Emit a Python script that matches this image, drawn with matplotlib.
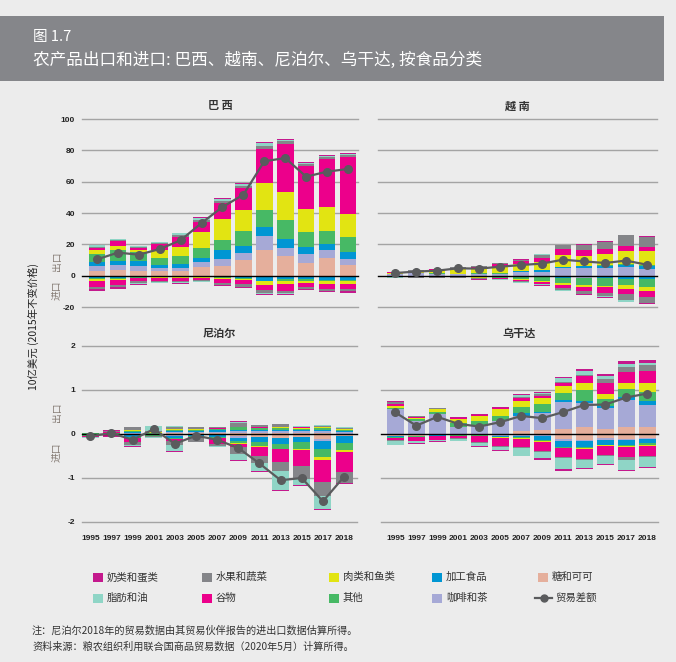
import matplotlib
matplotlib.use("Agg")
import matplotlib.pyplot as plt
from matplotlib.patches import Rectangle
from matplotlib.lines import Line2D
import numpy as np

plt.rcParams['font.family'] = ['Noto Sans CJK SC', 'DejaVu Sans']

years = ["1995", "1997", "1999", "2001", "2003", "2005", "2007",
         "2009", "2011", "2013", "2015", "2017", "2018"]

# category order = stacking order away from the zero line
cat_keys = ["sugar", "coffee", "processed", "other", "meat", "cereals", "fruit", "fats", "dairy"]
cat_names = {"dairy": "奶类和蛋类", "fruit": "水果和蔬菜", "meat": "肉类和鱼类",
             "processed": "加工食品", "sugar": "糖和可可", "fats": "脂肪和油",
             "cereals": "谷物", "other": "其他", "coffee": "咖啡和茶"}
cat_colors = {"dairy": "#c4198d", "fruit": "#848589", "meat": "#e2e412",
              "processed": "#0096d3", "sugar": "#e5af9c", "fats": "#8fd5c6",
              "cereals": "#ec008b", "other": "#47b965", "coffee": "#a6a9d6"}
balance_color = "#5a5b5d"

# ---- Brazil (10亿美元) ----
brazil_exports = [
    [3.2, 3.4, 3.2, 3.2, 3.2, 5.7, 6.4, 10.2, 16.6, 12.8, 8.3, 11.5, 7.0],     # sugar
    [3.0, 3.6, 3.2, 1.9, 1.9, 3.2, 4.5, 4.1, 8.9, 5.1, 5.7, 5.1, 3.9],         # coffee
    [2.8, 2.1, 2.7, 1.9, 2.6, 2.6, 5.3, 4.8, 5.8, 5.7, 4.5, 3.8, 4.4],         # processed
    [5.0, 7.1, 6.0, 4.5, 5.1, 6.4, 6.8, 9.6, 10.8, 12.1, 9.6, 8.3, 9.6],       # other
    [2.6, 2.5, 1.1, 4.7, 5.7, 10.2, 13.4, 13.4, 17.3, 17.9, 14.7, 15.3, 14.7], # meat
    [1.2, 3.2, 1.5, 3.8, 6.0, 6.4, 9.8, 14.1, 21.7, 30.7, 27.0, 30.3, 36.4],   # cereals
    [0.8, 0.7, 0.8, 0.6, 1.5, 1.2, 1.3, 1.3, 1.5, 1.5, 1.5, 1.5, 1.3],         # fruit
    [0.7, 0.6, 0.3, 0.6, 1.0, 1.3, 1.5, 1.3, 1.9, 1.1, 0.9, 0.9, 0.6],         # fats
    [0.5, 0.4, 0.3, 0.4, 0.4, 0.7, 0.6, 0.6, 1.0, 0.6, 0.6, 0.6, 0.7],         # dairy
]
brazil_imports = [
    [0.1, 0.1, 0.05, 0.05, 0.05, 0.05, 0.1, 0.1, 0.1, 0.1, 0.1, 0.1, 0.1],
    [0.1, 0.1, 0.05, 0.05, 0.05, 0.05, 0.1, 0.1, 0.2, 0.2, 0.2, 0.2, 0.2],
    [1.5, 1.5, 0.7, 0.5, 0.5, 0.6, 0.8, 1.1, 3.2, 2.1, 2.1, 2.3, 2.3],
    [0.3, 0.3, 0.4, 0.3, 0.3, 0.4, 0.4, 0.6, 0.2, 1.1, 0.8, 1.1, 1.1],
    [1.7, 1.0, 0.5, 0.5, 0.7, 0.4, 0.8, 0.8, 2.1, 1.5, 1.3, 1.7, 1.7],
    [3.6, 3.2, 1.9, 2.1, 2.1, 1.5, 2.6, 2.8, 3.2, 4.5, 2.6, 2.8, 2.8],
    [1.1, 1.1, 1.3, 0.7, 0.6, 0.6, 1.1, 1.5, 2.1, 1.7, 1.1, 1.3, 1.5],
    [0.2, 0.2, 0.2, 0.2, 0.3, 0.2, 0.2, 0.3, 0.4, 0.6, 0.4, 0.4, 0.4],
    [1.1, 1.3, 0.6, 0.2, 0.4, 0.2, 0.6, 0.8, 1.1, 0.7, 0.7, 0.8, 0.7],
]
brazil_balance = [10.4, 14.7, 13.4, 17.0, 22.6, 33.6, 43.8, 51.7, 73.0, 75.1, 63.2, 66.4, 68.1]

# ---- Viet Nam ----
vietnam_exports = [
    [0.0, 0.0, 0.0, 0.0, 0.0, 0.1, 0.1, 0.1, 0.1, 0.1, 0.1, 0.1, 0.1],
    [0.9, 1.4, 1.2, 1.0, 0.8, 0.8, 2.4, 2.5, 4.6, 4.6, 4.8, 5.2, 4.4],
    [0.1, 0.1, 0.1, 0.1, 0.2, 0.3, 0.4, 1.0, 0.6, 1.2, 1.4, 1.3, 1.5],
    [0.2, 0.1, 0.1, 0.2, 0.4, 0.4, 0.2, 0.3, 0.4, 0.5, 0.6, 1.1, 1.1],
    [0.4, 1.0, 2.0, 2.8, 3.2, 3.8, 4.5, 4.7, 7.4, 6.4, 7.0, 8.3, 8.9],
    [0.6, 0.6, 0.7, 1.0, 1.1, 1.9, 1.9, 2.8, 3.8, 3.8, 3.4, 3.1, 2.6],
    [0.4, 0.3, 0.3, 0.3, 0.4, 0.5, 0.7, 2.1, 2.6, 3.2, 4.3, 7.0, 6.2],
    [0.0, 0.0, 0.0, 0.0, 0.0, 0.1, 0.05, 0.05, 0.05, 0.05, 0.05, 0.05, 0.05],
    [0.05, 0.05, 0.1, 0.1, 0.1, 0.2, 0.15, 0.1, 0.1, 0.1, 0.6, 0.1, 0.6],
]
vietnam_imports = [
    [0.1, 0.0, 0.0, 0.0, 0.0, 0.0, 0.2, 0.2, 1.0, 1.1, 0.3, 0.5, 0.5],
    [0.05, 0.0, 0.0, 0.0, 0.0, 0.0, 0.1, 0.1, 0.1, 0.1, 0.1, 0.4, 0.4],
    [0.2, 0.2, 0.2, 0.2, 0.2, 0.3, 0.5, 0.3, 0.1, 0.1, 1.3, 1.2, 1.1],
    [0.4, 0.2, 0.2, 0.3, 0.9, 1.0, 1.5, 2.6, 3.6, 4.7, 4.7, 4.1, 5.1],
    [0.1, 0.6, 0.6, 0.3, 0.3, 0.3, 0.4, 0.6, 1.1, 1.3, 1.1, 2.1, 2.6],
    [0.2, 0.1, 0.1, 0.3, 0.3, 0.4, 0.6, 1.5, 2.1, 2.6, 3.8, 3.2, 3.8],
    [0.1, 0.1, 0.1, 0.2, 0.2, 0.2, 0.5, 0.3, 1.3, 1.5, 1.9, 4.2, 3.8],
    [0.3, 0.1, 0.1, 0.2, 0.3, 0.4, 0.6, 0.4, 0.4, 0.4, 0.5, 0.9, 0.4],
    [0.3, 0.0, 0.0, 0.2, 0.4, 0.4, 0.5, 0.4, 0.4, 0.6, 0.6, 0.4, 0.6],
]
vietnam_balance = [1.7, 2.6, 3.2, 4.7, 4.5, 5.7, 6.8, 7.7, 10.2, 9.1, 8.1, 9.6, 7.0]

# ---- Nepal ----
nepal_exports = [
    [0.0, 0.0, 0.01, 0.0, 0.02, 0.02, 0.02, 0.03, 0.03, 0.03, 0.02, 0.02, 0.01],
    [0.0, 0.0, 0.02, 0.0, 0.03, 0.03, 0.03, 0.03, 0.03, 0.04, 0.04, 0.05, 0.03],
    [0.01, 0.0, 0.01, 0.0, 0.02, 0.02, 0.03, 0.04, 0.04, 0.03, 0.03, 0.03, 0.03],
    [0.01, 0.03, 0.03, 0.03, 0.03, 0.03, 0.03, 0.05, 0.03, 0.03, 0.03, 0.04, 0.03],
    [0.01, 0.0, 0.02, 0.01, 0.01, 0.01, 0.01, 0.01, 0.01, 0.02, 0.02, 0.02, 0.01],
    [0.0, 0.02, 0.01, 0.0, 0.01, 0.01, 0.01, 0.0, 0.02, 0.02, 0.01, 0.01, 0.01],
    [0.0, 0.02, 0.05, 0.02, 0.05, 0.03, 0.02, 0.10, 0.04, 0.05, 0.02, 0.02, 0.02],
    [0.0, 0.0, 0.01, 0.12, 0.01, 0.01, 0.01, 0.01, 0.0, 0.0, 0.01, 0.01, 0.01],
    [0.0, 0.01, 0.01, 0.01, 0.01, 0.01, 0.01, 0.02, 0.01, 0.01, 0.01, 0.01, 0.02],
]
nepal_imports = [
    [0.01, 0.0, 0.01, 0.0, 0.02, 0.01, 0.01, 0.04, 0.07, 0.08, 0.07, 0.11, 0.05],
    [0.01, 0.0, 0.02, 0.0, 0.03, 0.01, 0.01, 0.04, 0.0, 0.01, 0.0, 0.05, 0.0],
    [0.0, 0.01, 0.03, 0.01, 0.03, 0.03, 0.04, 0.07, 0.12, 0.14, 0.12, 0.18, 0.15],
    [0.02, 0.01, 0.03, 0.03, 0.03, 0.01, 0.02, 0.06, 0.09, 0.10, 0.15, 0.18, 0.17],
    [0.0, 0.01, 0.01, 0.0, 0.01, 0.0, 0.02, 0.01, 0.02, 0.01, 0.03, 0.06, 0.03],
    [0.02, 0.01, 0.08, 0.0, 0.04, 0.04, 0.12, 0.08, 0.20, 0.30, 0.36, 0.50, 0.47],
    [0.01, 0.01, 0.06, 0.02, 0.09, 0.08, 0.06, 0.15, 0.15, 0.21, 0.29, 0.34, 0.24],
    [0.01, 0.0, 0.03, 0.02, 0.14, 0.0, 0.01, 0.15, 0.20, 0.42, 0.15, 0.28, 0.0],
    [0.02, 0.01, 0.02, 0.0, 0.01, 0.01, 0.01, 0.02, 0.02, 0.02, 0.02, 0.03, 0.02],
]
nepal_balance = [-0.05, 0.02, -0.13, 0.11, -0.22, -0.04, -0.13, -0.32, -0.67, -1.05, -1.0, -1.53, -0.97]

# ---- Uganda ----
uganda_exports = [
    [0.0, 0.0, 0.0, 0.0, 0.0, 0.0, 0.06, 0.08, 0.12, 0.15, 0.12, 0.15, 0.17],
    [0.57, 0.29, 0.45, 0.17, 0.19, 0.29, 0.36, 0.39, 0.60, 0.55, 0.48, 0.63, 0.50],
    [0.0, 0.0, 0.0, 0.0, 0.0, 0.01, 0.05, 0.04, 0.06, 0.06, 0.04, 0.05, 0.07],
    [0.03, 0.05, 0.06, 0.08, 0.11, 0.10, 0.15, 0.17, 0.16, 0.23, 0.16, 0.20, 0.22],
    [0.04, 0.02, 0.05, 0.09, 0.12, 0.16, 0.14, 0.13, 0.14, 0.16, 0.11, 0.14, 0.19],
    [0.05, 0.03, 0.0, 0.02, 0.02, 0.04, 0.06, 0.05, 0.07, 0.17, 0.24, 0.23, 0.28],
    [0.04, 0.01, 0.02, 0.01, 0.0, 0.0, 0.03, 0.04, 0.04, 0.03, 0.09, 0.13, 0.13],
    [0.0, 0.0, 0.0, 0.0, 0.0, 0.0, 0.04, 0.04, 0.08, 0.09, 0.08, 0.06, 0.05],
    [0.01, 0.02, 0.0, 0.02, 0.01, 0.02, 0.03, 0.02, 0.03, 0.04, 0.05, 0.08, 0.08],
]
uganda_imports = [
    [0.04, 0.04, 0.03, 0.02, 0.02, 0.03, 0.02, 0.02, 0.12, 0.13, 0.10, 0.11, 0.08],
    [0.01, 0.0, 0.0, 0.0, 0.0, 0.01, 0.02, 0.02, 0.04, 0.03, 0.03, 0.03, 0.03],
    [0.01, 0.01, 0.01, 0.01, 0.01, 0.02, 0.03, 0.10, 0.13, 0.13, 0.11, 0.10, 0.10],
    [0.02, 0.01, 0.01, 0.01, 0.02, 0.01, 0.02, 0.03, 0.02, 0.03, 0.02, 0.03, 0.04],
    [0.0, 0.0, 0.0, 0.0, 0.0, 0.01, 0.02, 0.01, 0.01, 0.02, 0.02, 0.02, 0.02],
    [0.06, 0.10, 0.08, 0.06, 0.14, 0.20, 0.18, 0.20, 0.20, 0.22, 0.19, 0.24, 0.24],
    [0.01, 0.01, 0.01, 0.01, 0.02, 0.01, 0.03, 0.03, 0.03, 0.02, 0.02, 0.05, 0.02],
    [0.09, 0.04, 0.03, 0.04, 0.06, 0.07, 0.17, 0.14, 0.25, 0.20, 0.20, 0.24, 0.22],
    [0.02, 0.02, 0.02, 0.02, 0.02, 0.02, 0.02, 0.03, 0.03, 0.02, 0.02, 0.03, 0.02],
]
uganda_balance = [0.49, 0.19, 0.39, 0.23, 0.17, 0.27, 0.41, 0.36, 0.50, 0.66, 0.67, 0.83, 0.92]

W, H = 676, 662
fig = plt.figure(figsize=(W / 100, H / 100), dpi=100, facecolor="#ececec")

# background layer in pixel coordinates (header band, legend, notes)
bg = fig.add_axes([0, 0, 1, 1], zorder=0)
bg.set_xlim(0, W)
bg.set_ylim(H, 0)
bg.axis("off")
bg.add_patch(Rectangle((0, 16), 664, 65, color="#85868a", lw=0))
bg.text(33, 37, "图 1.7", color="white", fontsize=10.5, va="center", ha="left")
bg.text(33, 60, "农产品出口和进口: 巴西、越南、尼泊尔、乌干达, 按食品分类",
        color="white", fontsize=12, va="center", ha="left")

num_font = dict(family=["Liberation Sans Narrow", "Liberation Sans", "DejaVu Sans"],
                fontweight="bold", fontsize=6, color="#222222")


def make_ax(x0, x1, ytop, ybot):
    return fig.add_axes([x0 / W, 1 - ybot / H, (x1 - x0) / W, (ybot - ytop) / H], zorder=1)


panels = [
    # name, exports, imports, balance, box, xlim, ylim, ticks, show y labels, show years
    ("巴 西", brazil_exports, brazil_imports, brazil_balance, (82, 358, 119, 307),
     (-0.716, 12.48), (-20, 100), [-20, 0, 20, 40, 60, 80, 100], True, False),
    ("越 南", vietnam_exports, vietnam_imports, vietnam_balance, (378, 657, 119, 307),
     (-0.81, 12.48), (-20, 100), [-20, 0, 20, 40, 60, 80, 100], False, False),
    ("尼泊尔", nepal_exports, nepal_imports, nepal_balance, (82, 357, 346, 522),
     (-0.39, 12.61), (-2, 2), [-2, -1, 0, 1, 2], True, True),
    ("乌干达", uganda_exports, uganda_imports, uganda_balance, (381, 658, 346, 522),
     (-0.68, 12.51), (-2, 2), [-2, -1, 0, 1, 2], False, True),
]

x = np.arange(len(years))
for name, exp, imp, bal, box, xl, yl, ticks, ylab, xlab in panels:
    ax = make_ax(*box)
    ax.set_facecolor("none")
    pos = np.zeros(len(years))
    neg = np.zeros(len(years))
    for k, key in enumerate(cat_keys):
        e = np.array(exp[k])
        m = np.array(imp[k])
        ax.bar(x, e, bottom=pos, width=0.8, color=cat_colors[key], lw=0, zorder=2)
        ax.bar(x, -m, bottom=-neg, width=0.8, color=cat_colors[key], lw=0, zorder=2)
        pos += e
        neg += m
    for t in ticks:
        if t != 0:
            ax.axhline(t, color="#a4a4a4", lw=1.0, zorder=1, clip_on=False)
    ax.axhline(0, color="black", lw=1.0, zorder=3, clip_on=False)
    ax.plot(x, bal, color=balance_color, lw=1.6, marker="o", ms=5.5, zorder=4)
    ax.set_xlim(*xl)
    ax.set_ylim(*yl)
    for s in ax.spines.values():
        s.set_visible(False)
    ax.set_yticks(ticks)
    ax.tick_params(length=0, pad=5)
    if ylab:
        ax.set_yticklabels([str(t) for t in ticks], **num_font)
    else:
        ax.set_yticklabels([])
    if xlab:
        ax.set_xticks(x)
        ax.set_xticklabels(years, **num_font)
        ax.tick_params(axis="x", pad=9)
    else:
        ax.set_xticks([])
    cx = (box[0] + box[1]) / 2
    bg.text(cx, box[2] - 13, name, fontsize=8, fontweight="bold", color="#333333",
            ha="center", va="center")

# axis titles
bg.text(33, 327, "10亿美元 (2015年不变价格)", rotation=90, fontsize=7.5, color="#222222",
        ha="center", va="center")
for yo, yi in [(261, 290), (412, 452)]:
    bg.text(57, yo, "出口", rotation=90, fontsize=7, color="#857b74", ha="center", va="center")
    bg.text(57, yi, "进口", rotation=90, fontsize=7, color="#857b74", ha="center", va="center")

# legend
rows = [["dairy", "fruit", "meat", "processed", "sugar"],
        ["fats", "cereals", "other", "coffee", None]]
col_x = [93, 202, 329, 432, 538]
row_y = [577, 598]
for r, keys in enumerate(rows):
    for c, key in enumerate(keys):
        if key is None:
            bg.add_line(Line2D([535, 552], [row_y[r], row_y[r]], color=balance_color, lw=1.6))
            bg.plot([543.5], [row_y[r]], marker="o", ms=5, color=balance_color)
            bg.text(555, row_y[r], "贸易差额", fontsize=7.5, color="#333333", va="center")
            continue
        bg.add_patch(Rectangle((col_x[c], row_y[r] - 4.5), 9.5, 9.5, color=cat_colors[key], lw=0))
        bg.text(col_x[c] + 14, row_y[r], cat_names[key], fontsize=7.5, color="#333333", va="center")

bg.text(32, 631, "注：尼泊尔2018年的贸易数据由其贸易伙伴报告的进出口数据估算所得。",
        fontsize=7.3, color="#333333", va="center")
bg.text(32, 647, "资料来源：粮农组织利用联合国商品贸易数据（2020年5月）计算所得。",
        fontsize=7.3, color="#333333", va="center")

fig.savefig("out.png", dpi=100, facecolor=fig.get_facecolor())
